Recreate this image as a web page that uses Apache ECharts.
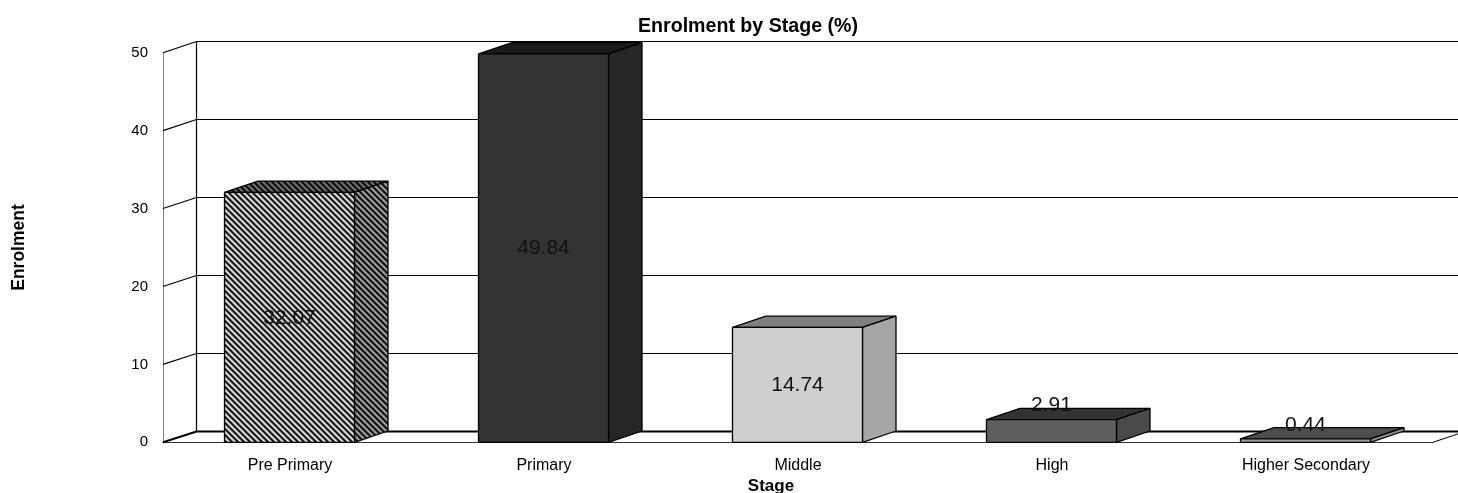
<!DOCTYPE html>
<html><head><meta charset="utf-8">
<style>html,body{margin:0;padding:0;background:#fff}#c{width:1458px;height:493px}</style>
<script src="https://cdn.jsdelivr.net/npm/echarts@6/dist/echarts.min.js"></script>
</head><body><div id="c"></div>
<script>
const categories = ['Pre Primary','Primary','Middle','High','Higher Secondary'];
const enrolment = [32.07,49.84,14.74,2.91,0.44];
const yTicks = [0,10,20,30,40,50];
const frontColors = [null,'#333333','#cfcfcf','#5f5f5f','#999999'];
const sideColors = [null,'#262626','#a6a6a6','#4a4a4a','#8c8c8c'];
const topColors = [null,'#1a1a1a','#7f7f7f','#333333','#4d4d4d'];
const FONT = 'Liberation Sans, Arial, sans-serif';
const DX = 33.5, DY = -11.3;

function stripes(vals){
  const n = vals.length, cv = document.createElement('canvas');
  cv.width = n; cv.height = n;
  const g = cv.getContext('2d');
  for(let x=0;x<n;x++)for(let y=0;y<n;y++){
    g.fillStyle = vals[((x-y)%n+n)%n];
    g.fillRect(x,y,1,1);
  }
  return {image:cv,repeat:'repeat'};
}
const patFront = stripes(['#000000','#404040','#a0a0a0','#f0f0f0','#b0b0b0','#484848']);
const patSide  = stripes(['#000000','#303030','#707070','#b0b0b0','#808080','#383838']);
const patTop   = stripes(['#000000','#202020','#505050','#808080','#585858','#282828']);

const chart = echarts.init(document.getElementById('c'),null,{renderer:'canvas'});

function renderGrid(params,api){
  const cs = params.coordSys, v = api.value(0);
  const y = api.coord([0,v])[1], l = cs.x, r = cs.x+cs.width, w = v===0?2:1.2;
  const by = Math.round(y+DY)+0.5, bx = Math.floor(l+DX)+0.5;
  const ln = (a,b,c,d,lw,col)=>({type:'line',shape:{x1:a,y1:b,x2:c,y2:d},style:{stroke:col||'#000',lineWidth:lw}});
  const ch = [ln(l,y,bx,by,w), ln(bx,by,r+DX,by,w)];
  if(v===0){
    const topY = api.coord([0,yTicks[yTicks.length-1]])[1];
    ch.push(ln(bx,by,bx,Math.round(topY+DY)+0.5,1.2));
    ch.push(ln(r,y,r+DX,y+DY,1));
  }
  return {type:'group',children:ch};
}
function renderBar(params,api){
  const i = api.value(0), v = api.value(1);
  const p = api.coord([i,v]), b = api.coord([i,0]);
  const bw = api.size([1,0])[0]*130/254;
  const x0 = Math.round(p[0]-bw/2)-0.5, x1 = x0+Math.round(bw), yt = p[1], yb = b[1];
  const poly = (pts,fill)=>({type:'polygon',shape:{points:pts},style:{fill,stroke:'#000',lineWidth:1.3,lineJoin:'bevel'}});
  const h = yb-yt, ly = h<60 ? yt-14 : (yt+yb)/2+0.5;
  return {type:'group',children:[
    poly([[x0,yt],[x1,yt],[x1+DX,yt+DY],[x0+DX,yt+DY]], i===0?patTop:topColors[i]),
    poly([[x1,yt],[x1,yb],[x1+DX,yb+DY],[x1+DX,yt+DY]], i===0?patSide:sideColors[i]),
    poly([[x0,yt],[x1,yt],[x1,yb],[x0,yb]], i===0?patFront:frontColors[i]),
    {type:'text',style:{text:v.toFixed(2),x:(x0+x1)/2,y:ly,textAlign:'center',textVerticalAlign:'middle',fill:'#111',font:'21px '+FONT}}
  ]};
}

chart.setOption({
  animation:false,
  backgroundColor:'#fff',
  title:[
    {text:'Enrolment by Stage (%)',left:748,top:16.5,padding:0,textAlign:'center',textStyle:{fontFamily:FONT,fontWeight:'bold',fontSize:19.6,color:'#000'}},
    {text:'Stage',left:771,top:478,padding:0,textAlign:'center',textStyle:{fontFamily:FONT,fontWeight:'bold',fontSize:17,color:'#000'}}
  ],
  grid:{left:163,right:25,top:52.7,bottom:50.7,outerBoundsMode:'none'},
  xAxis:{type:'category',data:categories,boundaryGap:true,
    axisTick:{show:false},axisLine:{show:true,lineStyle:{color:'#333',width:1}},
    axisLabel:{color:'#000',fontFamily:FONT,fontSize:16,margin:15},splitLine:{show:false}},
  yAxis:{type:'value',min:0,max:50,interval:10,
    name:'Enrolment',nameLocation:'middle',nameGap:135,nameRotate:90,
    nameTextStyle:{fontFamily:FONT,fontWeight:'bold',fontSize:17.5,color:'#000'},
    axisLine:{show:true,lineStyle:{color:'#808080',width:1}},axisTick:{show:false},
    axisLabel:{color:'#000',fontFamily:FONT,fontSize:15,margin:15},splitLine:{show:false}},
  series:[
    {type:'custom',name:'grid',z:1,silent:true,clip:false,data:yTicks.map(v=>[v]),renderItem:renderGrid,encode:{y:0}},
    {type:'custom',name:'Enrolment',z:3,clip:false,data:enrolment.map((v,i)=>[i,v]),renderItem:renderBar,encode:{x:0,y:1}}
  ]
});
</script></body></html>
